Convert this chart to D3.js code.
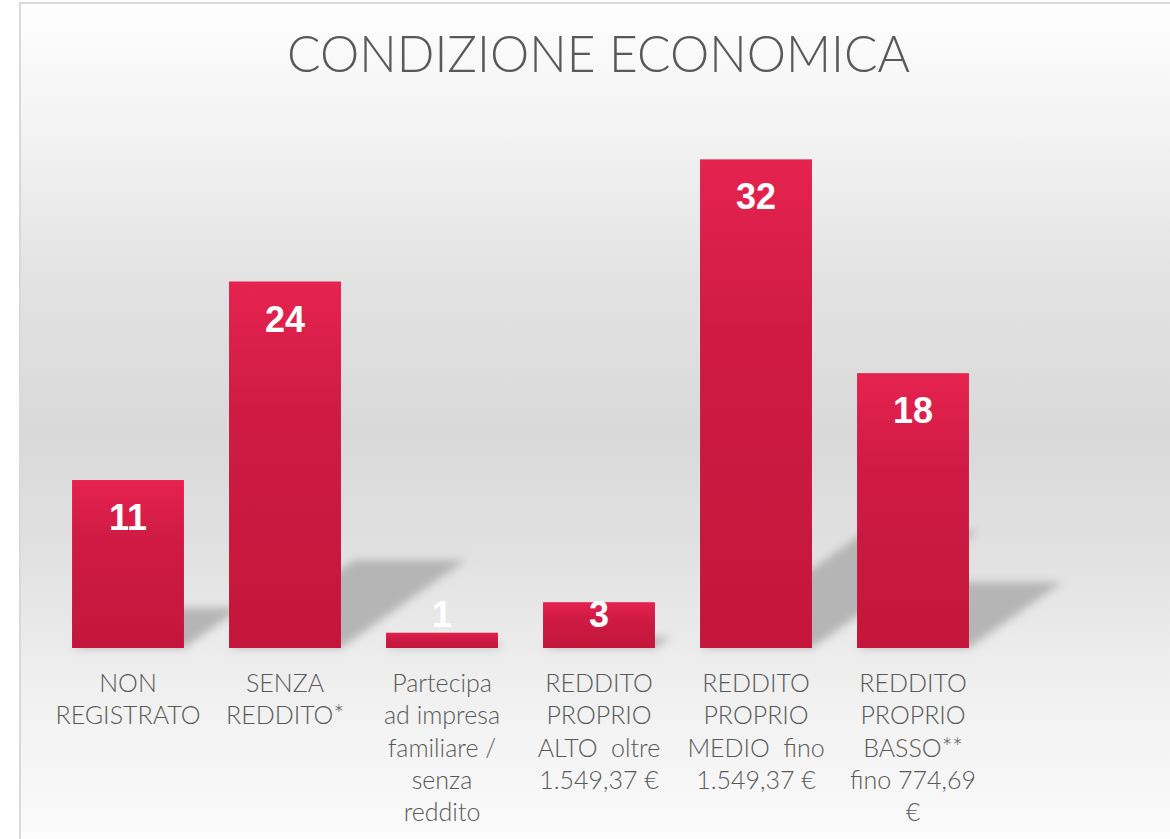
<!DOCTYPE html>
<html>
<head>
<meta charset="utf-8">
<script src="https://cdn.jsdelivr.net/npm/d3@7"></script>
<style>
  html, body { margin: 0; padding: 0; background: #ffffff; }
  svg { display: block; }
</style>
</head>
<body>
<svg id="chart" width="1170" height="839"></svg>
<script>
// ---- data ----
const title = "CONDIZIONE ECONOMICA";
const categories = [
  "NON REGISTRATO",
  "SENZA REDDITO*",
  "Partecipa ad impresa familiare / senza reddito",
  "REDDITO PROPRIO ALTO  oltre 1.549,37 €",
  "REDDITO PROPRIO MEDIO  fino 1.549,37 €",
  "REDDITO PROPRIO BASSO** fino 774,69 €"
];
const values = [11, 24, 1, 3, 32, 18];
const tickLines = [
  ["NON", "REGISTRATO"],
  ["SENZA", "REDDITO*"],
  ["Partecipa", "ad impresa", "familiare /", "senza", "reddito"],
  ["REDDITO", "PROPRIO", "ALTO  oltre", "1.549,37 €"],
  ["REDDITO", "PROPRIO", "MEDIO  fino", "1.549,37 €"],
  ["REDDITO", "PROPRIO", "BASSO**", "fino 774,69", "€"]
];

// ---- layout ----
const W = 1170, H = 839;
const baseY = 648;
const svg = d3.select("#chart");
const defs = svg.append("defs");

// background gradient
const bg = defs.append("linearGradient").attr("id", "bgGrad")
  .attr("x1", 0).attr("y1", 0).attr("x2", 0).attr("y2", 1);
[[0, "#fbfbfb"], [0.12, "#f3f3f3"], [0.3, "#e3e3e3"], [0.5, "#d9d9d9"],
 [0.65, "#e1e1e1"], [0.82, "#f0f0f0"], [1, "#fafafa"]]
  .forEach(([o, c]) => bg.append("stop").attr("offset", o).attr("stop-color", c));

// bar gradient
const bgBar = defs.append("linearGradient").attr("id", "barGrad")
  .attr("x1", 0).attr("y1", 0).attr("x2", 0).attr("y2", 1);
[[0, "#e5234f"], [0.35, "#cf1b44"], [1, "#c3163a"]]
  .forEach(([o, c]) => bgBar.append("stop").attr("offset", o).attr("stop-color", c));

// shadow blur
const f = defs.append("filter").attr("id", "blur")
  .attr("x", "-20%").attr("y", "-20%").attr("width", "140%").attr("height", "140%");
f.append("feGaussianBlur").attr("stdDeviation", 4);

svg.append("rect").attr("x", 0).attr("y", 0).attr("width", W).attr("height", H).attr("fill", "#ffffff");
svg.append("rect").attr("x", 20).attr("y", 3).attr("width", W + 10).attr("height", H + 10)
  .attr("fill", "#fdfdfd").attr("stroke", "#d9d9d9").attr("stroke-width", 2);
svg.append("rect").attr("x", 21).attr("y", 33).attr("width", W - 21).attr("height", 799)
  .attr("fill", "url(#bgGrad)");

// scales
const x = d3.scaleBand().domain(categories).range([49.5, 991.5])
  .paddingInner(0.287).paddingOuter(0.1435);
const y = d3.scaleLinear().domain([0, 35]).range([baseY, baseY - 35 * 15.27]);

// shadows
const shadowG = svg.append("g").attr("filter", "url(#blur)");
shadowG.selectAll("path").data(values).join("path")
  .attr("d", (v, i) => {
    const x0 = x(categories[i]), x1 = x0 + x.bandwidth();
    const h = y(0) - y(v);
    const dy = 0.24 * h, dx = 0.34 * h;
    return `M${x0},${y(0)} L${x1},${y(0)} L${x1 + dx},${y(0) - dy} L${x0 + dx},${y(0) - dy} Z`;
  })
  .attr("fill", "#b5b5b5");

// bars
svg.append("g").selectAll("rect").data(values).join("rect")
  .attr("x", (v, i) => x(categories[i]))
  .attr("y", v => y(v))
  .attr("width", x.bandwidth())
  .attr("height", v => y(0) - y(v))
  .attr("fill", "url(#barGrad)");

// value labels
svg.append("g").selectAll("text").data(values).join("text")
  .attr("x", (v, i) => x(categories[i]) + x.bandwidth() / 2)
  .attr("y", v => Math.min(y(v) + 50, y(0) - 21))
  .attr("text-anchor", "middle")
  .attr("font-family", "'Liberation Sans', Arial, sans-serif")
  .attr("font-weight", "bold")
  .attr("font-size", 36)
  .attr("fill", "#ffffff")
  .text(v => v);

// x axis
const axis = svg.append("g").attr("transform", `translate(0,${baseY})`)
  .call(d3.axisBottom(x).tickSize(0).tickFormat(""));
axis.select(".domain").remove();
axis.selectAll(".tick text").remove();
axis.selectAll(".tick").append("text")
  .attr("fill", "#595959")
  .attr("font-family", "Lato, 'Noto Sans', sans-serif")
  .attr("font-weight", 300)
  .attr("font-size", 25)
  .attr("text-anchor", "middle")
  .each(function(d, i) {
    const t = d3.select(this);
    tickLines[i].forEach((line, k) => {
      t.append("tspan").attr("x", 0).attr("y", 44 + k * 32.3)
        .attr("xml:space", "preserve").text(line);
    });
  });

// title
svg.append("text")
  .attr("x", 598.5).attr("y", 72)
  .attr("text-anchor", "middle")
  .attr("font-family", "Lato, 'Noto Sans', sans-serif")
  .attr("font-weight", 300)
  .attr("font-size", 51)
  .attr("textLength", 623)
  .attr("lengthAdjust", "spacingAndGlyphs")
  .attr("fill", "#595959")
  .text(title);
</script>
</body>
</html>
